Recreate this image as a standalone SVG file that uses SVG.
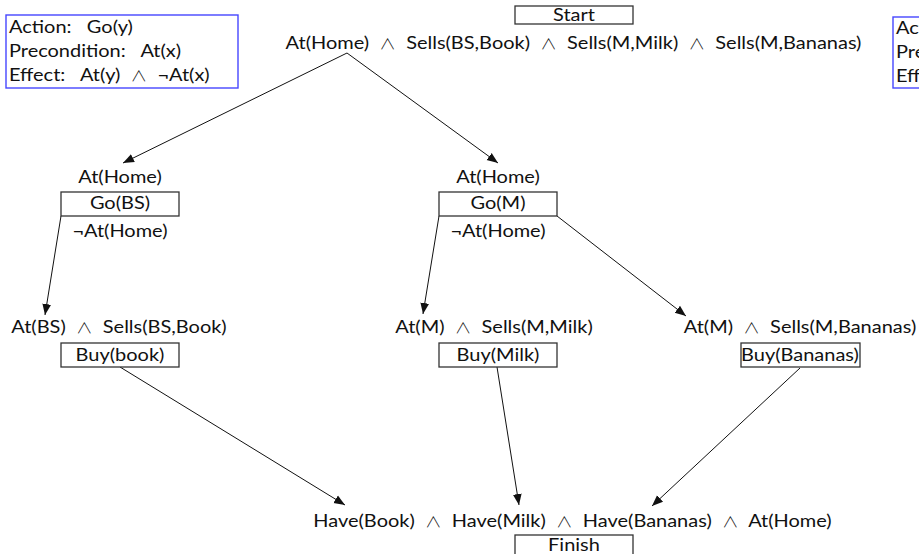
<svg xmlns="http://www.w3.org/2000/svg" width="919" height="554" viewBox="0 0 919 554">
  <style>
    text { font-family: Lato, "Open Sans", "DejaVu Sans", sans-serif; font-size: 18px; fill: #111; white-space: pre;
           transform-box: fill-box; transform-origin: left; transform: scaleX(1.11); }
    text.c { text-anchor: middle; transform-origin: center; }
    .and { font-family: "Noto Sans CJK SC", "DejaVu Sans", sans-serif; font-size: 15px; font-weight: 300; }
    .act { fill: #fff; stroke: #333; stroke-width: 1.3; }
    .schema { fill: #fff; stroke: #4646ff; stroke-width: 1.4; }
    .edge { stroke: #111; stroke-width: 1; fill: none; marker-end: url(#arrow); }
  </style>
  <defs>
    <marker id="arrow" viewBox="0 0 10 10" refX="10" refY="5" markerWidth="11" markerHeight="11" markerUnits="userSpaceOnUse" orient="auto">
      <path d="M0,1 L10,5 L0,9 Z" fill="#111"/>
    </marker>
  </defs>
  <rect width="919" height="554" fill="#fff"/>

  <!-- action schemas -->
  <g id="schema-go">
    <rect class="schema" x="6" y="15" width="232" height="73"/>
    <text x="9" y="33" xml:space="preserve">Action:   Go(y)</text>
    <text x="9" y="57" xml:space="preserve">Precondition:   At(x)</text>
    <text x="9" y="81" xml:space="preserve">Effect:   At(y)  <tspan class="and">∧</tspan>  ¬At(x)</text>
  </g>
  <g id="schema-buy">
    <rect class="schema" x="893" y="17" width="240" height="71"/>
    <text x="896" y="34">Action:</text>
    <text x="896" y="58">Precondition:</text>
    <text x="896" y="82">Effect:</text>
  </g>

  <!-- connectors -->
  <g id="connectors">
    <line class="edge" x1="347" y1="53" x2="123" y2="163"/>
    <line class="edge" x1="347" y1="53" x2="498" y2="163"/>
    <line class="edge" x1="61" y1="216" x2="45" y2="315"/>
    <line class="edge" x1="439" y1="216" x2="423" y2="314"/>
    <line class="edge" x1="557" y1="216" x2="686" y2="316"/>
    <line class="edge" x1="120" y1="367" x2="345" y2="505"/>
    <line class="edge" x1="497" y1="367" x2="519" y2="505"/>
    <line class="edge" x1="800" y1="368" x2="652" y2="506"/>
  </g>

  <g id="start">
    <rect class="act" x="515" y="6" width="118" height="18"/>
    <text class="c" x="574" y="21">Start</text>
    <text class="c" x="573.5" y="49" xml:space="preserve">At(Home)  <tspan class="and">∧</tspan>  Sells(BS,Book)  <tspan class="and">∧</tspan>  Sells(M,Milk)  <tspan class="and">∧</tspan>  Sells(M,Bananas)</text>
  </g>

  <g id="go-bs">
    <text class="c" x="120" y="183">At(Home)</text>
    <rect class="act" x="61" y="192" width="118" height="24"/>
    <text class="c" x="120" y="209">Go(BS)</text>
    <text class="c" x="120" y="237">¬At(Home)</text>
  </g>

  <g id="go-m">
    <text class="c" x="498" y="183">At(Home)</text>
    <rect class="act" x="439" y="192" width="118" height="24"/>
    <text class="c" x="498" y="209">Go(M)</text>
    <text class="c" x="498" y="237">¬At(Home)</text>
  </g>

  <g id="buy-book">
    <text class="c" x="119" y="333" xml:space="preserve">At(BS)  <tspan class="and">∧</tspan>  Sells(BS,Book)</text>
    <rect class="act" x="61" y="343" width="118" height="24"/>
    <text class="c" x="120" y="361">Buy(book)</text>
  </g>

  <g id="buy-milk">
    <text class="c" x="494" y="333" xml:space="preserve">At(M)  <tspan class="and">∧</tspan>  Sells(M,Milk)</text>
    <rect class="act" x="439" y="343" width="118" height="24"/>
    <text class="c" x="498" y="361">Buy(Milk)</text>
  </g>

  <g id="buy-bananas">
    <text class="c" x="800" y="333" xml:space="preserve">At(M)  <tspan class="and">∧</tspan>  Sells(M,Bananas)</text>
    <rect class="act" x="741" y="343" width="119" height="24"/>
    <text class="c" x="800" y="361">Buy(Bananas)</text>
  </g>

  <g id="finish">
    <text class="c" x="572.5" y="527" xml:space="preserve">Have(Book)  <tspan class="and">∧</tspan>  Have(Milk)  <tspan class="and">∧</tspan>  Have(Bananas)  <tspan class="and">∧</tspan>  At(Home)</text>
    <rect class="act" x="515" y="535" width="118" height="24"/>
    <text class="c" x="574" y="551">Finish</text>
  </g>
</svg>
